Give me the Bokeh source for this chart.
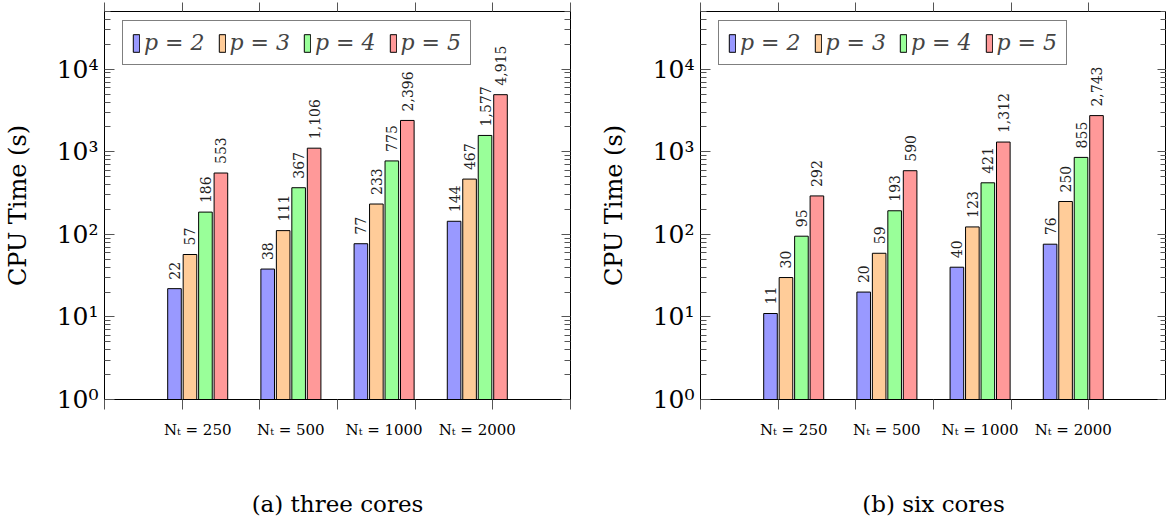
import math
from bokeh.plotting import figure
from bokeh.models import (FixedTicker, LinearAxis, LogAxis, Legend, LegendItem, Range1d)
from bokeh.layouts import row
from bokeh.core.properties import value
from bokeh.embed import file_html
from bokeh.resources import INLINE

# ---------------- data ----------------
groups = [1, 2, 3, 4]
group_labels = ["Nₜ = 250", "Nₜ = 500", "Nₜ = 1000", "Nₜ = 2000"]
series_names = ["p = 2", "p = 3", "p = 4", "p = 5"]
colors = ["#9999ff", "#ffcc99", "#99ff99", "#ff9999"]

three_p2 = [22, 38, 77, 144]
three_p3 = [57, 111, 233, 467]
three_p4 = [186, 367, 775, 1577]
three_p5 = [553, 1106, 2396, 4915]

six_p2 = [11, 20, 40, 76]
six_p3 = [30, 59, 123, 250]
six_p4 = [95, 193, 421, 855]
six_p5 = [292, 590, 1312, 2743]

y_tick_values = [1, 10, 100, 1000, 10000]
y_tick_labels = ["10⁰", "10¹", "10²", "10³", "10⁴"]
y_label = "CPU Time (s)"
captions = ["(a) three cores", "(b) six cores"]

# ---------------- style ----------------
FONT = "DejaVu Serif"
X_MIN, X_MAX = 0, 5
Y_MIN, Y_MAX = 1, 50000
X_DECOR = [i * (X_MAX - X_MIN) / 6 for i in range(7)]
Y_MINOR = [k * 10 ** d for d in range(5) for k in range(2, 10) if k * 10 ** d <= Y_MAX]
OFFSETS = [-0.249, -0.083, 0.083, 0.249]
BAR_W = 0.146
TICK_COLOR = "#555555"


def make_panel(series, caption, min_left, min_right):
    p = figure(frame_width=466, frame_height=388,
               x_range=Range1d(X_MIN, X_MAX), y_range=Range1d(Y_MIN, Y_MAX),
               y_axis_type="log", output_backend="svg", toolbar_location=None,
               min_border_left=min_left, min_border_right=min_right,
               min_border_top=11, min_border_bottom=0)
    p.xgrid.visible = False
    p.ygrid.visible = False
    p.outline_line_color = "black"
    p.outline_line_width = 1
    p.background_fill_color = "white"

    # bottom axis
    xa = p.xaxis[0]
    xa.ticker = FixedTicker(ticks=groups, minor_ticks=X_DECOR)
    xa.major_label_overrides = {g: lab for g, lab in zip(groups, group_labels)}
    xa.major_tick_in = 0
    xa.major_tick_out = 0
    xa.minor_tick_in = 0
    xa.minor_tick_out = 10
    xa.minor_tick_line_color = TICK_COLOR
    xa.axis_line_color = "black"
    xa.major_label_text_font = FONT
    xa.major_label_text_font_size = "15px"
    xa.major_label_text_color = "black"
    xa.major_label_standoff = 11
    xa.axis_label = caption
    xa.axis_label_text_font = FONT
    xa.axis_label_text_font_size = "23px"
    xa.axis_label_text_font_style = "normal"
    xa.axis_label_text_color = "black"
    xa.axis_label_standoff = 49

    # left axis
    ya = p.yaxis[0]
    ya.ticker = FixedTicker(ticks=y_tick_values, minor_ticks=Y_MINOR)
    ya.major_label_overrides = {v: lab for v, lab in zip(y_tick_values, y_tick_labels)}
    ya.major_tick_in = 10
    ya.major_tick_out = 0
    ya.minor_tick_in = 6
    ya.minor_tick_out = 0
    ya.major_tick_line_color = TICK_COLOR
    ya.minor_tick_line_color = TICK_COLOR
    ya.axis_line_color = "black"
    ya.major_label_text_font = FONT
    ya.major_label_text_font_size = "25px"
    ya.major_label_text_color = "black"
    ya.major_label_standoff = 6
    ya.axis_label = y_label
    ya.axis_label_text_font = FONT
    ya.axis_label_text_font_size = "24px"
    ya.axis_label_text_font_style = "normal"
    ya.axis_label_text_color = "black"
    ya.axis_label_standoff = 22

    # right mirror axis
    ra = LogAxis(ticker=FixedTicker(ticks=y_tick_values, minor_ticks=Y_MINOR),
                 major_label_overrides={v: "" for v in y_tick_values},
                 major_label_text_font_size="0px", major_label_standoff=0,
                 major_tick_in=9, major_tick_out=0, minor_tick_in=6, minor_tick_out=0,
                 major_tick_line_color=TICK_COLOR, minor_tick_line_color=TICK_COLOR,
                 axis_line_color="black")
    p.add_layout(ra, "right")

    # top mirror axis
    ta = LinearAxis(ticker=FixedTicker(ticks=[], minor_ticks=X_DECOR),
                    major_label_text_font_size="0px", major_label_standoff=0,
                    major_tick_in=0, major_tick_out=0, minor_tick_in=0, minor_tick_out=9,
                    minor_tick_line_color=TICK_COLOR, axis_line_color="black")
    p.add_layout(ta, "above")

    items = []
    for i, vals in enumerate(series):
        xs = [g + OFFSETS[i] for g in groups]
        r = p.vbar(x=xs, top=vals, bottom=Y_MIN, width=BAR_W,
                   fill_color=colors[i], line_color="black", line_width=1)
        p.text(x=xs, y=vals, text=[f"{v:,}" for v in vals], angle=math.pi / 2,
               text_align="left", text_baseline="middle", y_offset=-9,
               text_font=value(FONT), text_font_size="14px", text_color="#222222")
        items.append(LegendItem(label=series_names[i], renderers=[r]))

    legend = Legend(items=items, orientation="horizontal", location=(18, 334),
                    glyph_width=8, glyph_height=22, label_standoff=4, spacing=13,
                    padding=9, margin=0, border_line_color="black", border_line_width=1,
                    label_text_font=FONT, label_text_font_size="22px",
                    label_text_font_style="italic", background_fill_alpha=1.0)
    p.add_layout(legend, "center")
    return p


p1 = make_panel([three_p2, three_p3, three_p4, three_p5], captions[0], 100, 26)
p2 = make_panel([six_p2, six_p3, six_p4, six_p5], captions[1], 100, 0)
layout = row(p1, p2, spacing=0)

open("out.html", "w").write(file_html(layout, INLINE))
